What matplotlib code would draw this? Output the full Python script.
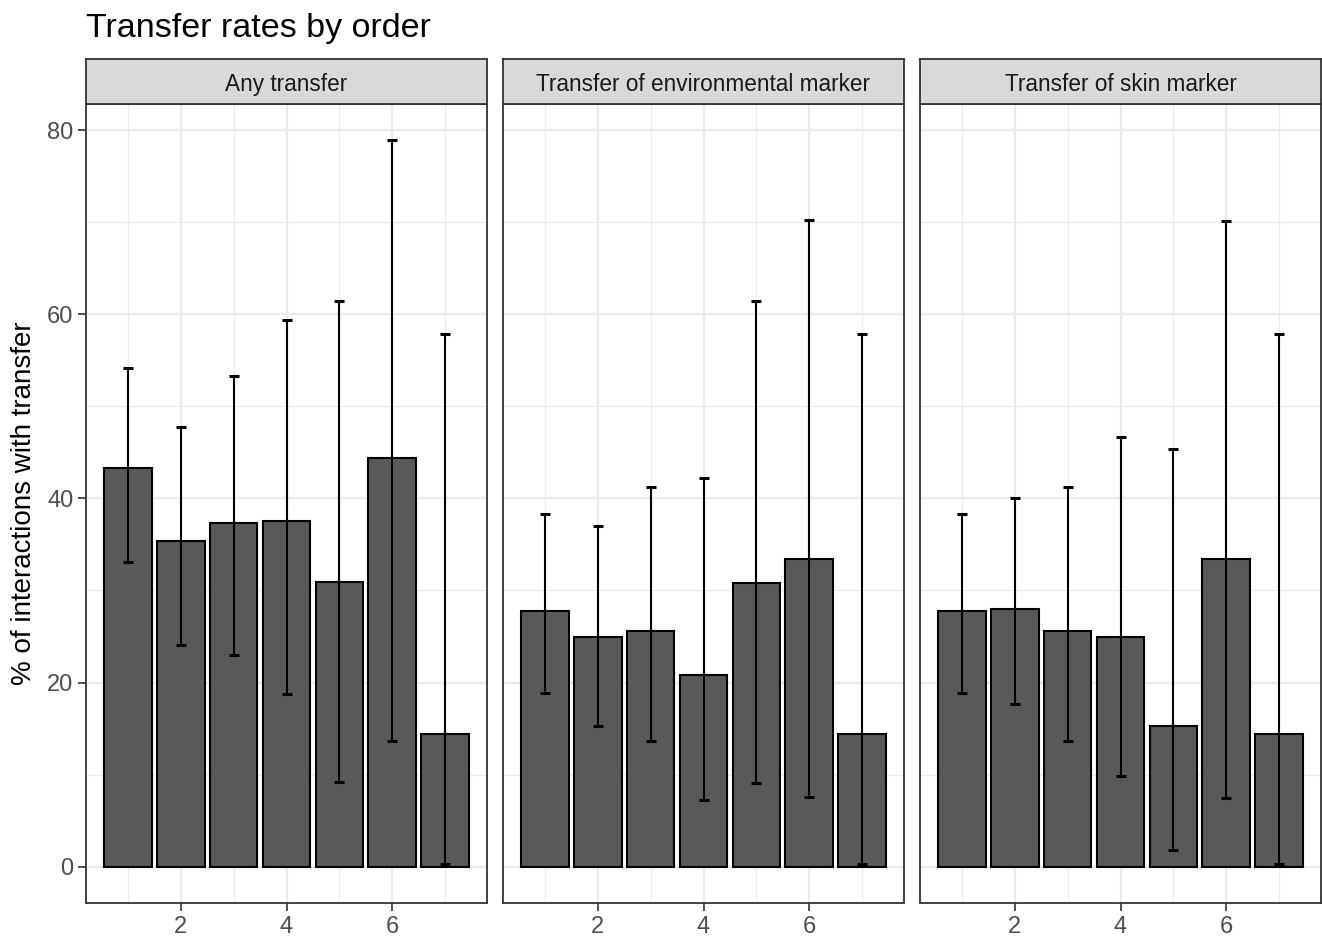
import matplotlib
matplotlib.use("Agg")
import matplotlib.pyplot as plt
import numpy as np

panels = ["Any transfer", "Transfer of environmental marker", "Transfer of skin marker"]
order = [1, 2, 3, 4, 5, 6, 7]

any_rate = [43.3, 35.4, 37.3, 37.6, 30.9, 44.4, 14.4]
any_low = [33.1, 24.1, 23.0, 18.8, 9.2, 13.7, 0.3]
any_high = [54.2, 47.8, 53.3, 59.4, 61.5, 78.9, 57.9]

env_rate = [27.8, 25.0, 25.6, 20.8, 30.8, 33.4, 14.4]
env_low = [18.9, 15.3, 13.6, 7.2, 9.1, 7.6, 0.3]
env_high = [38.3, 37.0, 41.2, 42.2, 61.4, 70.2, 57.9]

skin_rate = [27.8, 28.0, 25.6, 25.0, 15.3, 33.4, 14.4]
skin_low = [18.9, 17.7, 13.6, 9.9, 1.8, 7.5, 0.3]
skin_high = [38.3, 40.1, 41.2, 46.7, 45.4, 70.1, 57.9]

series = [(any_rate, any_low, any_high),
          (env_rate, env_low, env_high),
          (skin_rate, skin_low, skin_high)]

plt.rcParams['font.family'] = ['Liberation Sans', 'DejaVu Sans']

W, H = 1322, 938
fig = plt.figure(figsize=(W / 100, H / 100), dpi=100)

lefts = [86, 503, 920]
pw = 401
top_px, bot_px = 104, 903
strip_top = 59

allvals = []
for r, lo, hi in series:
    allvals += list(hi) + [0]
ymax = max(allvals)
ylo, yhi = -0.05 * ymax, ymax * 1.05
xlo, xhi = 0.55 - 0.345, 7.45 + 0.345

for i, (name, (r, lo, hi)) in enumerate(zip(panels, series)):
    ax = fig.add_axes([lefts[i] / W, 1 - bot_px / H, pw / W, (bot_px - top_px) / H])
    ax.set_xlim(xlo, xhi)
    ax.set_ylim(ylo, yhi)
    # grid
    for y in [10, 30, 50, 70]:
        ax.axhline(y, color='#EBEBEB', lw=0.8, zorder=0)
    for y in [0, 20, 40, 60, 80]:
        ax.axhline(y, color='#EBEBEB', lw=1.6, zorder=0)
    for x in [1, 3, 5, 7]:
        ax.axvline(x, color='#EBEBEB', lw=0.8, zorder=0)
    for x in [2, 4, 6]:
        ax.axvline(x, color='#EBEBEB', lw=1.6, zorder=0)
    ax.bar(order, r, width=0.9, color='#595959', edgecolor='black', linewidth=1.5, zorder=2)
    r_a = np.array(r); lo_a = np.array(lo); hi_a = np.array(hi)
    ax.errorbar(order, r_a, yerr=[r_a - lo_a, hi_a - r_a], fmt='none', ecolor='black',
                elinewidth=1.5, capsize=3.6, capthick=2.2, zorder=3)
    ax.set_xticks([2, 4, 6])
    ax.set_yticks([0, 20, 40, 60, 80])
    ax.tick_params(axis='both', length=6, width=1.2, color='#333333', labelcolor='#4D4D4D',
                   labelsize=17, direction='out', pad=3)
    if i > 0:
        ax.set_yticklabels([])
        ax.tick_params(axis='y', length=0)
    for s in ax.spines.values():
        s.set_color('#333333')
        s.set_linewidth(1.3)
    # strip
    sax = fig.add_axes([lefts[i] / W, 1 - top_px / H, pw / W, (top_px - strip_top) / H])
    sax.set_facecolor('#D9D9D9')
    sax.set_xticks([]); sax.set_yticks([])
    for s in sax.spines.values():
        s.set_color('#333333')
        s.set_linewidth(1.3)
    sax.text(0.5, 0.44, name, ha='center', va='center', fontsize=16.3, color='#1A1A1A',
             transform=sax.transAxes)

fig.text(86 / W, 1 - 29 / H, "Transfer rates by order", fontsize=24.5, ha='left', va='center', color='black')
fig.text(24 / W, 1 - ((top_px + bot_px) / 2) / H, "% of interactions with transfer", rotation=90,
         fontsize=20, ha='center', va='center', color='black')

fig.savefig("out.png", dpi=100)
